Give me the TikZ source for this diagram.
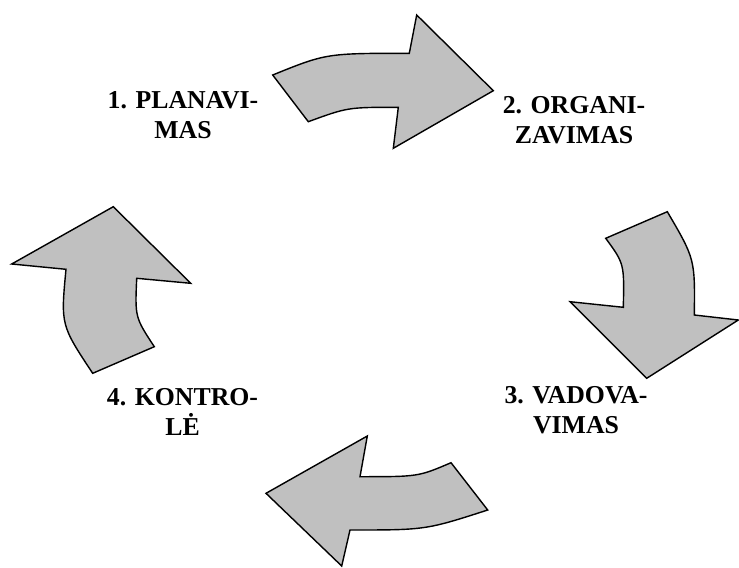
\documentclass[tikz,border=0pt]{standalone}
\usepackage{fontspec}
\setmainfont{Liberation Serif}
\begin{document}
\begin{tikzpicture}[x=0.03cm,y=-0.03cm,
  bentarrow/.style={draw=black,line width=1.2pt,fill={rgb,255:red,192;green,192;blue,192},line join=miter},
  stage/.style={font=\fontsize{22}{25.6}\selectfont\bfseries,align=center,anchor=base,inner sep=0pt}]
\useasboundingbox (0,0) rectangle (739,567);

% 1 -> 2 (top)
\draw[bentarrow] (272.7,75) .. controls (326.3,53.3) .. (409.3,53.3)
  -- (416.7,15) -- (493.3,90.7) -- (393.3,148.3) -- (398.3,107.3)
  .. controls (347.7,107.3) .. (308.3,121.7) -- cycle;

% 2 -> 3 (right)
\draw[bentarrow] (605.7,238.3) -- (667.3,211.7)
  .. controls (695,259) .. (694.3,315)
  -- (738.3,320) -- (646.7,378.3) -- (570,301.7) -- (623.3,307.3)
  .. controls (624.3,263.7) .. cycle;

% 3 -> 4 (bottom)
\draw[bentarrow] (451,462.7) -- (487.7,510)
  .. controls (425.7,530) .. (350,530)
  -- (341.7,566) -- (266,493.3) -- (367.3,436) -- (360,476.7)
  .. controls (418.3,476.7) .. cycle;

% 4 -> 1 (left)
\draw[bentarrow] (92.7,373.3) -- (154.3,346.7)
  .. controls (135,317.3) .. (136.7,278.3)
  -- (190.7,283.3) -- (113.3,206.7) -- (11.7,264) -- (66,269.3)
  .. controls (60.7,325) .. cycle;

% stage labels (base anchor sits on the last line)
\node[stage] (planavimas) at (183,138.3) {1. PLANAVI-\\MAS};
\node[stage] (organizavimas) at (574,143.3) {2. ORGANI-\\ZAVIMAS};
\node[stage] (vadovavimas) at (576,433.3) {3. VADOVA-\\VIMAS};
\node[stage] (kontrole) at (182.5,435) {4. KONTRO-\\LĖ};
\end{tikzpicture}
\end{document}
